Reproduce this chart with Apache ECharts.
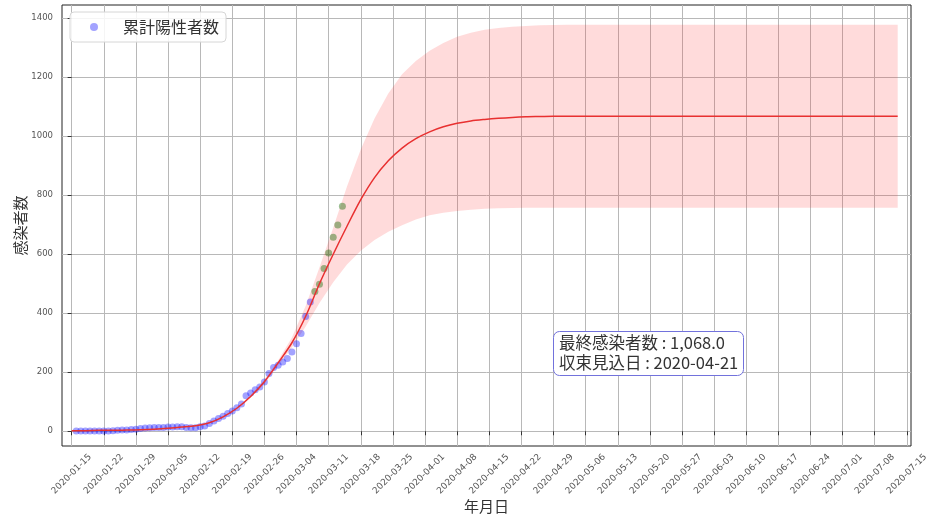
<!DOCTYPE html>
<html><head><meta charset="utf-8">
<script src="https://cdn.jsdelivr.net/npm/echarts@6/dist/echarts.min.js"></script>
<style>html,body{margin:0;padding:0;background:#fff}#c{width:932px;height:521px}</style>
</head><body><div id="c"></div>
<script>
// ---------- data ----------
const xTickLabels = ['2020-01-15','2020-01-22','2020-01-29','2020-02-05','2020-02-12','2020-02-19','2020-02-26',
  '2020-03-04','2020-03-11','2020-03-18','2020-03-25','2020-04-01','2020-04-08','2020-04-15','2020-04-22',
  '2020-04-29','2020-05-06','2020-05-13','2020-05-20','2020-05-27','2020-06-03','2020-06-10','2020-06-17',
  '2020-06-24','2020-07-01','2020-07-08','2020-07-15'];
const yTickValues = [0, 200, 400, 600, 800, 1000, 1200, 1400];

// observed cumulative positives (daily, starting positiveStart)
const positiveStart = '2020-01-16';
const positiveCounts = [1,1,1,1,1,1,1,1,2,3,4,4,6,7,9,11,12,13,13,13,14,14,15,15,13,12,12,15,18,26,
  35,43,51,60,69,80,92,120,130,141,150,167,196,216,224,235,247,269,297,331,389,438];
// later observations (daily, starting laterStart)
const laterStart = '2020-03-08';
const laterCounts = [474,498,552,604,658,699,763];

// fitted curve and its band (read every 3 days, then sparser on the plateau)
const fitDates = ['2020-01-15','2020-01-18','2020-01-21','2020-01-24','2020-01-27','2020-01-30','2020-02-02',
  '2020-02-05','2020-02-08','2020-02-11','2020-02-14','2020-02-17','2020-02-20','2020-02-23','2020-02-26',
  '2020-02-29','2020-03-03','2020-03-06','2020-03-09','2020-03-12','2020-03-15','2020-03-18','2020-03-21',
  '2020-03-24','2020-03-27','2020-03-30','2020-04-02','2020-04-05','2020-04-08','2020-04-11','2020-04-14',
  '2020-04-17','2020-04-20','2020-04-23','2020-04-26','2020-04-29','2020-05-02','2020-05-13','2020-05-28',
  '2020-06-12','2020-06-27','2020-07-13'];
const fitValues = [2,2,3,3,4,5,7,10,14,19,29,49,78,118,168,232,300,390,500,600,695,785,860,917,960,992,
  1015,1032,1044,1052,1057,1061,1064,1066,1067,1068,1068,1068,1068,1068,1068,1068];
const bandUpper = [2,2,3,3,4,5,7,10,14,19,30,50,80,122,175,240,318,425,555,690,830,955,1060,1145,1210,1255,
  1290,1316,1337,1351,1361,1367,1371,1374,1376,1377,1378,1378,1378,1378,1378,1378];
const bandLower = [2,2,3,3,4,5,7,10,14,19,29,47,76,114,160,222,284,355,435,505,565,612,648,676,698,718,
  732,741,747,751,754,756,757,758,758,758,758,758,758,758,758,758];

const legendName = '累計陽性者数';
const annotationLines = ['最終感染者数 : 1,068.0', '収束見込日 : 2020-04-21'];
const xAxisTitle = '年月日';
const yAxisTitle = '感染者数';

// ---------- helpers ----------
const ORIGIN = Date.UTC(2020, 0, 15);
function dayOf(s) { const p = s.split('-').map(Number); return (Date.UTC(p[0], p[1]-1, p[2]) - ORIGIN) / 86400000; }
const tickDays = xTickLabels.map(dayOf);
const tickMap = {}; xTickLabels.forEach((l, i) => { tickMap[tickDays[i]] = l; });

const posStart = dayOf(positiveStart);
const posData = positiveCounts.map((v, i) => [posStart + i, v]);
const latStart = dayOf(laterStart);
const latData = laterCounts.map((v, i) => [latStart + i, v]);
const fitDays = fitDates.map(dayOf);
const fitData = fitValues.map((v, i) => [fitDays[i], v]);
const bandData = fitDays.map((d, i) => [d, bandUpper[i], bandLower[i]]);

const CJK = 'Noto Sans CJK JP';
const chart = echarts.init(document.getElementById('c'), null, { renderer: 'canvas' });
chart.setOption({
  animation: false,
  backgroundColor: '#fff',
  grid: { left: 62, right: 21, top: 5, bottom: 75, show: true, borderColor: '#222', borderWidth: 1,
          backgroundColor: 'transparent', containLabel: false, outerBoundsMode: 'none' },
  title: {
    text: annotationLines.join('\n'),
    left: 553, top: 331,
    padding: [2, 6, 3, 6],
    borderColor: '#7272dc', borderWidth: 1, borderRadius: 6, backgroundColor: '#fff',
    textStyle: { fontFamily: CJK, fontSize: 16.5, lineHeight: 20, fontWeight: 'normal', color: '#333' }
  },
  legend: {
    data: [legendName], left: 70, top: 12,
    padding: [7, 7, 7, 20],
    itemWidth: 8, itemHeight: 8, icon: 'circle',
    borderColor: '#d6d6d6', borderWidth: 1, borderRadius: 4, backgroundColor: 'rgba(255,255,255,0.85)',
    textStyle: { fontFamily: CJK, fontSize: 16, color: '#333', padding: [0, 0, 0, 20] }
  },
  xAxis: {
    type: 'value', min: -2.1, max: 182.9,
    name: xAxisTitle, nameLocation: 'middle', nameGap: 53, nameMoveOverlap: false,
    nameTextStyle: { fontFamily: CJK, fontSize: 15, color: '#333' },
    axisLine: { show: false },
    axisTick: { show: true, length: 4, lineStyle: { color: '#333' }, customValues: tickDays },
    axisLabel: { customValues: tickDays, rotate: 45, fontSize: 9, color: '#555', fontFamily: 'DejaVu Sans',
                 margin: 28, align: 'center', verticalAlign: 'middle',
                 formatter: v => tickMap[Math.round(v)] || '' },
    splitLine: { show: true, lineStyle: { color: '#b8b8b8', width: 1 } }
  },
  yAxis: {
    type: 'value', min: -50, max: 1445,
    name: yAxisTitle, nameLocation: 'middle', nameGap: 34, nameRotate: 90, nameMoveOverlap: false,
    nameTextStyle: { fontFamily: CJK, fontSize: 15, color: '#333' },
    axisLine: { show: false },
    axisTick: { show: true, length: 4, lineStyle: { color: '#333' }, customValues: yTickValues },
    axisLabel: { customValues: yTickValues, fontSize: 8.5, color: '#555', fontFamily: 'DejaVu Sans', margin: 9,
                 formatter: v => String(v) },
    splitLine: { show: true, lineStyle: { color: '#b8b8b8', width: 1 } }
  },
  series: [
    { type: 'custom', name: 'band', data: bandData, encode: { x: 0, y: [1, 2] }, silent: true, z: 1,
      renderItem: function (params, api) {
        if (params.dataIndex !== 0) return null;
        const top = bandData.map(r => api.coord([r[0], r[1]]));
        const bot = bandData.slice().reverse().map(r => api.coord([r[0], r[2]]));
        return { type: 'polygon', shape: { points: top.concat(bot) },
                 style: { fill: 'rgba(255,40,40,0.17)', stroke: 'none' } };
      } },
    { type: 'line', name: 'fit', data: fitData, symbol: 'none', smooth: 0.3,
      lineStyle: { color: 'rgb(232,48,48)', width: 1.5 }, z: 3 },
    { type: 'scatter', name: legendName, data: posData, symbolSize: 7,
      itemStyle: { color: 'rgba(0,0,255,0.45)' }, z: 2 },
    { type: 'scatter', name: 'later', data: latData, symbolSize: 7,
      itemStyle: { color: 'rgba(30,110,10,0.55)' }, z: 2 }
  ]
});
</script>
</body></html>
